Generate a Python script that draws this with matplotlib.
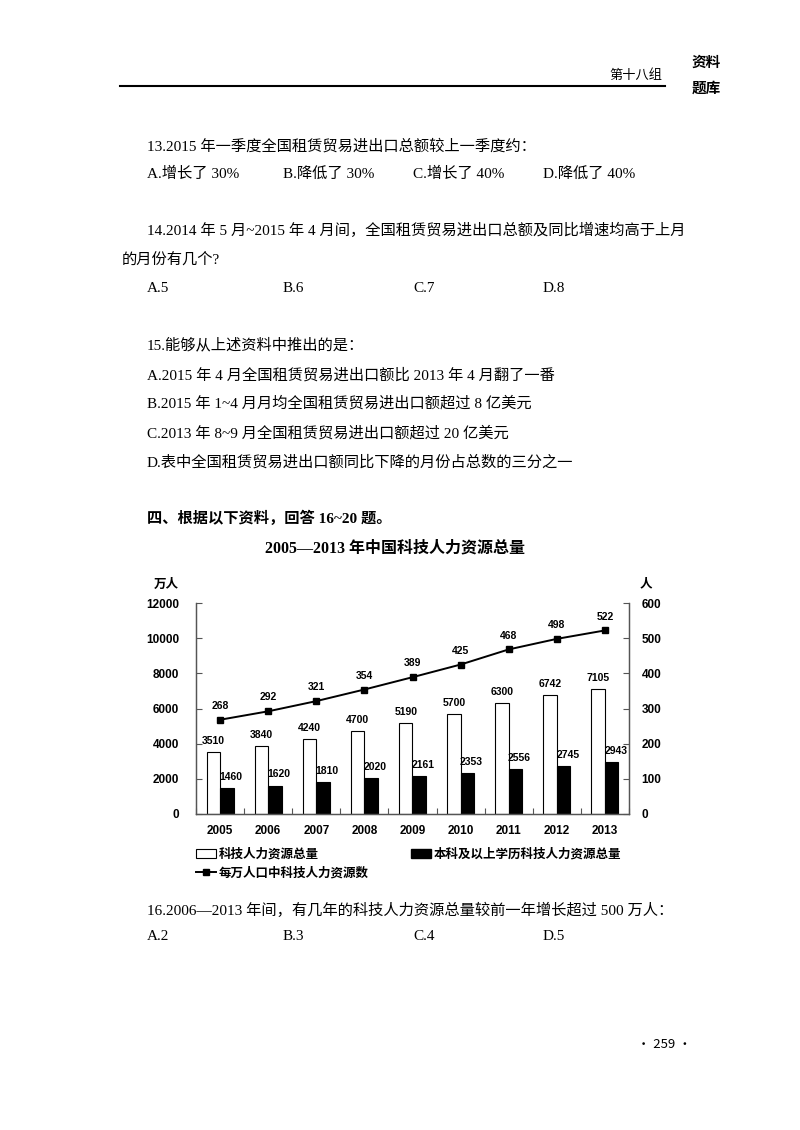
import numpy as np
import matplotlib.pyplot as plt
from matplotlib.patches import Patch
from matplotlib.lines import Line2D

# --------------------------
# Data
# --------------------------
years = ['2005', '2006', '2007', '2008', '2009', '2010', '2011', '2012', '2013']
total_hr = [3510, 3840, 4240, 4700, 5190, 5700, 6300, 6742, 7105]
bachelor_hr = [1460, 1620, 1810, 2020, 2161, 2353, 2556, 2745, 2943]
per_10k = [268, 292, 321, 354, 389, 425, 468, 498, 522]

left_ticks = [0, 2000, 4000, 6000, 8000, 10000, 12000]
right_ticks = [0, 100, 200, 300, 400, 500, 600]

chart_title = '2005—2013 年中国科技人力资源总量'
legend_labels = ['科技人力资源总量', '本科及以上学历科技人力资源总量', '每万人口中科技人力资源数']

# page text lines: (text, x px, y px, bold)
page_lines = [
    ('13.2015 年一季度全国租赁贸易进出口总额较上一季度约：', 147, 146, False),
    ('A.增长了 30%', 147, 174, False),
    ('B.降低了 30%', 283, 174, False),
    ('C.增长了 40%', 413, 174, False),
    ('D.降低了 40%', 543, 174, False),
    ('14.2014 年 5 月~2015 年 4 月间，全国租赁贸易进出口总额及同比增速均高于上月', 147, 230, False),
    ('的月份有几个?', 122, 259, False),
    ('A.5', 147, 289, False),
    ('B.6', 283, 289, False),
    ('C.7', 413, 289, False),
    ('D.8', 543, 289, False),
    ('15.能够从上述资料中推出的是：', 147, 345, False),
    ('A.2015 年 4 月全国租赁贸易进出口额比 2013 年 4 月翻了一番', 147, 375, False),
    ('B.2015 年 1~4 月月均全国租赁贸易进出口额超过 8 亿美元', 147, 403, False),
    ('C.2013 年 8~9 月全国租赁贸易进出口额超过 20 亿美元', 147, 433, False),
    ('D.表中全国租赁贸易进出口额同比下降的月份占总数的三分之一', 147, 462, False),
    ('四、根据以下资料，回答 16~20 题。', 147, 518, True),
    ('16.2006—2013 年间，有几年的科技人力资源总量较前一年增长超过 500 万人：', 147, 910, False),
    ('A.2', 147, 937, False),
    ('B.3', 283, 937, False),
    ('C.4', 413, 937, False),
    ('D.5', 543, 937, False),
]

W, H = 800, 1130
serif = ['Liberation Serif', 'Noto Sans CJK SC']
sans = ['Liberation Sans', 'Noto Sans CJK SC']


def fx(x):
    return x / W


def fy(y):
    return 1 - y / H


fig = plt.figure(figsize=(8, 11.3), dpi=100)
fig.patch.set_facecolor('white')

# --------------------------
# Page header
# --------------------------
fig.add_artist(Line2D([fx(120), fx(665)], [fy(86), fy(86)], color='black', lw=1.5))
fig.text(fx(662), fy(76), '第十八组', ha='right', va='center', fontsize=9.5,
         family=['Noto Sans CJK SC'])
fig.text(fx(706), fy(62), '资料', ha='center', va='center', fontsize=10.5,
         family=['Noto Sans CJK SC'], weight='bold')
fig.text(fx(706), fy(88), '题库', ha='center', va='center', fontsize=10.5,
         family=['Noto Sans CJK SC'], weight='bold')

for text, x, y, bold in page_lines:
    fig.text(fx(x), fy(y), text, ha='left', va='center', fontsize=11,
             family=serif, weight='bold' if bold else 'normal')

fig.text(fx(664), fy(1044), '• 259 •', ha='center', va='center', fontsize=9.5,
         family=['Noto Sans CJK SC', 'DejaVu Sans'])

# --------------------------
# Chart
# --------------------------
ax_l, ax_r, ax_b, ax_t = 196, 629, 814, 603
ax = fig.add_axes([fx(ax_l), fy(ax_b), (ax_r - ax_l) / W, (ax_b - ax_t) / H])
x = np.arange(len(years))
bw = 0.28

ax.bar(x - bw / 2, total_hr, bw, color='white', edgecolor='black', linewidth=0.8, zorder=2)
ax.bar(x + bw / 2, bachelor_hr, bw, color='black', edgecolor='black', linewidth=0.8, zorder=2)

for xi, v in zip(x, total_hr):
    ax.annotate(str(v), (xi - bw / 2, v), xytext=(0, 8), textcoords='offset points',
                ha='center', va='center', fontsize=7.5, weight='bold', family=sans)
for xi, v in zip(x, bachelor_hr):
    ax.annotate(str(v), (xi + bw / 2, v), xytext=(3, 8), textcoords='offset points',
                ha='center', va='center', fontsize=7.5, weight='bold', family=sans)

ax.set_xlim(-0.5, len(years) - 0.5)
ax.set_ylim(0, 12000)
ax.set_yticks(left_ticks)
ax.set_yticklabels([str(t) for t in left_ticks], fontsize=8.5, weight='bold', family=sans)
ax.set_xticks(x)
ax.set_xticklabels(years, fontsize=8.5, weight='bold', family=sans)
ax.set_xticks(np.arange(len(years) + 1) - 0.5, minor=True)
ax.tick_params(axis='x', which='major', length=0, pad=8)
ax.tick_params(axis='x', which='minor', direction='in', length=4, width=0.8, color='#555555')
ax.tick_params(axis='y', direction='in', length=4, width=0.8, color='#555555', pad=12)
ax.spines['top'].set_visible(False)
for s in ['left', 'bottom', 'right']:
    ax.spines[s].set_color('#555555')
    ax.spines[s].set_linewidth(0.9)

ax2 = ax.twinx()
ax2.plot(x, per_10k, color='black', lw=1.4, marker='s', markersize=4.5, zorder=3)
for xi, v in zip(x, per_10k):
    ax2.annotate(str(v), (xi, v), xytext=(0, 10), textcoords='offset points',
                 ha='center', va='center', fontsize=7.5, weight='bold', family=sans)
ax2.set_ylim(0, 600)
ax2.set_yticks(right_ticks)
ax2.set_yticklabels([str(t) for t in right_ticks], fontsize=8.5, weight='bold', family=sans)
ax2.tick_params(axis='y', direction='in', length=4, width=0.8, color='#555555', pad=9)
ax2.spines['top'].set_visible(False)
for s in ['left', 'bottom', 'right']:
    ax2.spines[s].set_color('#555555')
    ax2.spines[s].set_linewidth(0.9)

fig.text(fx(395), fy(548), chart_title, ha='center', va='center', fontsize=11.5,
         weight='bold', family=serif)
fig.text(fx(166), fy(584), '万人', ha='center', va='center', fontsize=9,
         weight='bold', family=['Noto Sans CJK SC'])
fig.text(fx(646), fy(584), '人', ha='center', va='center', fontsize=9,
         weight='bold', family=['Noto Sans CJK SC'])

handles = [
    Patch(facecolor='white', edgecolor='black', linewidth=0.8),
    Line2D([], [], color='black', lw=1.4, marker='s', markersize=4.5),
    Patch(facecolor='black', edgecolor='black'),
]
labels = [legend_labels[0], legend_labels[2], legend_labels[1]]
fig.legend(handles, labels, loc='upper left', bbox_to_anchor=(fx(196), fy(848)),
           ncol=2, frameon=False, prop={'family': ['Noto Sans CJK SC'], 'weight': 'bold', 'size': 9},
           handlelength=1.6, handletextpad=0.2, columnspacing=3.4, labelspacing=0.45,
           borderaxespad=0, borderpad=0)

plt.savefig('out.png', dpi=100)
